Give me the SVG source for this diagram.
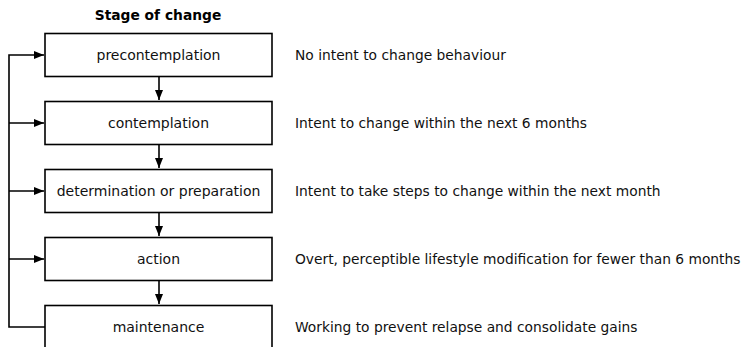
<svg xmlns="http://www.w3.org/2000/svg" width="751" height="347" viewBox="0 0 751 347">
<style>
.box{fill:#fff;stroke:#000;stroke-width:1.6}
.lbl{font-family:"DejaVu Sans",sans-serif;font-size:14px;fill:#111;text-anchor:middle;dominant-baseline:central}
.desc{font-family:"DejaVu Sans",sans-serif;font-size:13.8px;fill:#111;dominant-baseline:central}
.title{font-family:"DejaVu Sans",sans-serif;font-size:13.8px;font-weight:bold;fill:#000;text-anchor:middle;dominant-baseline:central}
.ln{fill:none;stroke:#000;stroke-width:1.6}
</style>
<defs>
<marker id="ah" viewBox="0 0 10 8" refX="10" refY="4" markerWidth="10" markerHeight="8" markerUnits="userSpaceOnUse" orient="auto">
<path d="M0,0 L10,4 L0,8 Z" fill="#000"/>
</marker>
</defs>
<text class="title" x="158" y="15">Stage of change</text>
<g id="connectors">
<path class="ln" d="M45,327 H9 V55 H44" marker-end="url(#ah)"/>
<path class="ln" d="M9,123 H44" marker-end="url(#ah)"/>
<path class="ln" d="M9,191 H44" marker-end="url(#ah)"/>
<path class="ln" d="M9,259 H44" marker-end="url(#ah)"/>
<path class="ln" d="M159,77 V100" marker-end="url(#ah)"/>
<path class="ln" d="M159,145 V168" marker-end="url(#ah)"/>
<path class="ln" d="M159,213 V236" marker-end="url(#ah)"/>
<path class="ln" d="M159,281 V304" marker-end="url(#ah)"/>
</g>
<g id="precontemplation">
<rect class="box" x="45" y="33.5" width="227" height="43"/>
<text class="lbl" x="158.5" y="55">precontemplation</text>
<text class="desc" x="295" y="55">No intent to change behaviour</text>
</g>
<g id="contemplation">
<rect class="box" x="45" y="101.5" width="227" height="43"/>
<text class="lbl" x="158.5" y="123">contemplation</text>
<text class="desc" x="295" y="123">Intent to change within the next 6 months</text>
</g>
<g id="determination">
<rect class="box" x="45" y="169.5" width="227" height="43"/>
<text class="lbl" x="158.5" y="191">determination or preparation</text>
<text class="desc" x="295" y="191">Intent to take steps to change within the next month</text>
</g>
<g id="action">
<rect class="box" x="45" y="237.5" width="227" height="43"/>
<text class="lbl" x="158.5" y="259">action</text>
<text class="desc" x="295" y="259">Overt, perceptible lifestyle modification for fewer than 6 months</text>
</g>
<g id="maintenance">
<rect class="box" x="45" y="305.5" width="227" height="43"/>
<text class="lbl" x="158.5" y="327">maintenance</text>
<text class="desc" x="295" y="327">Working to prevent relapse and consolidate gains</text>
</g>
</svg>
